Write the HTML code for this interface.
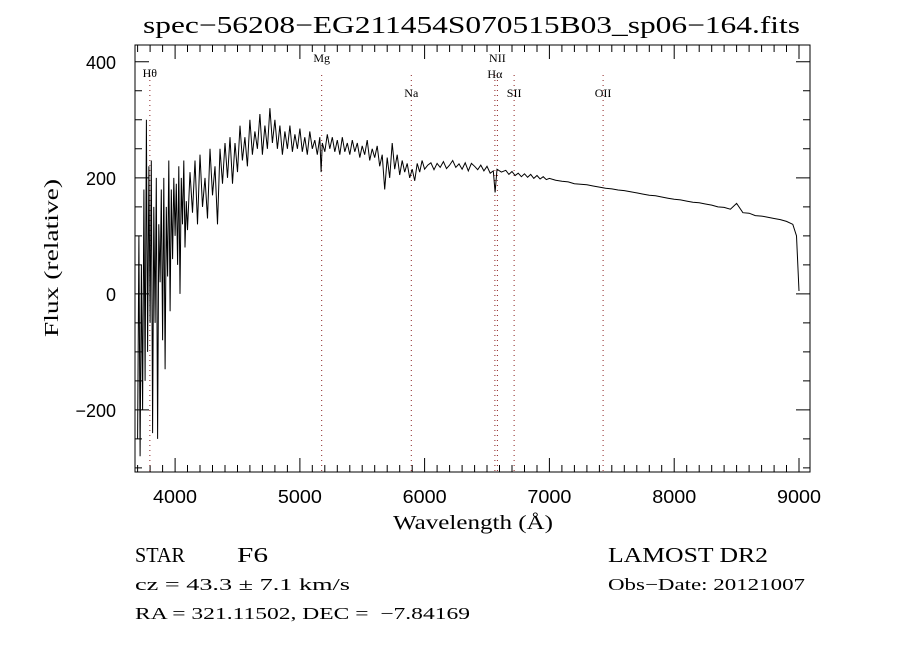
<!DOCTYPE html>
<html><head><meta charset="utf-8"><style>
body{margin:0;background:#fff;width:900px;height:650px;overflow:hidden}
svg{display:block}
.serif{font-family:"Liberation Serif",serif}
.sans{font-family:"Liberation Sans",sans-serif}
</style></head><body>
<svg id="chart" width="900" height="650" xmlns="http://www.w3.org/2000/svg">
<text class="serif" x="143" y="33" font-size="24" textLength="657" lengthAdjust="spacingAndGlyphs">spec−56208−EG211454S070515B03_sp06−164.fits</text>
<g id="axes"></g>
<g id="lines"></g>
<path id="spec" fill="none" stroke="#000" stroke-width="1"/>
<rect x="135" y="45" width="675" height="427" fill="none" stroke="#000" stroke-width="1"/>
<text class="serif" font-size="20" transform="translate(58,258) rotate(-90)" text-anchor="middle" textLength="158" lengthAdjust="spacingAndGlyphs">Flux (relative)</text>
<text class="serif" x="393" y="529" font-size="20" textLength="160" lengthAdjust="spacingAndGlyphs">Wavelength (Å)</text>
<text class="serif" x="135" y="562" font-size="21" textLength="50" lengthAdjust="spacingAndGlyphs">STAR</text>
<text class="serif" x="237" y="562" font-size="21" textLength="31" lengthAdjust="spacingAndGlyphs">F6</text>
<text class="serif" x="135" y="590" font-size="17" textLength="215" lengthAdjust="spacingAndGlyphs">cz = 43.3 ± 7.1 km/s</text>
<text class="serif" x="135" y="619" font-size="17" textLength="335" lengthAdjust="spacingAndGlyphs">RA = 321.11502, DEC =&#160;&#160;−7.84169</text>
<text class="serif" x="608" y="562" font-size="21" textLength="160" lengthAdjust="spacingAndGlyphs">LAMOST DR2</text>
<text class="serif" x="608" y="590" font-size="17" textLength="197" lengthAdjust="spacingAndGlyphs">Obs−Date: 20121007</text>
</svg>
<script>
const waves=[3700,3710,3720,3730,3740,3750,3760,3770,3780,3790,3800,3810,3820,3830,3840,3850,3860,3870,3880,3890,3900,3910,3920,3930,3940,3950,3960,3970,3980,3990,4000,4010,4020,4030,4040,4050,4060,4070,4080,4090,4100,4120,4140,4160,4180,4200,4220,4240,4260,4280,4300,4320,4340,4360,4380,4400,4420,4440,4460,4480,4500,4520,4540,4560,4580,4600,4620,4640,4660,4680,4700,4720,4740,4760,4780,4800,4820,4840,4860,4880,4900,4920,4940,4960,4980,5000,5020,5040,5060,5080,5100,5120,5140,5160,5170,5180,5200,5220,5240,5260,5280,5300,5320,5340,5360,5380,5400,5420,5440,5460,5480,5500,5520,5540,5560,5580,5600,5620,5640,5660,5680,5700,5720,5740,5760,5780,5800,5820,5840,5860,5880,5900,5920,5940,5960,5980,6000,6025,6050,6075,6100,6125,6150,6175,6200,6225,6250,6275,6300,6325,6350,6375,6400,6425,6450,6475,6500,6525,6550,6565,6580,6615,6650,6675,6700,6725,6750,6775,6800,6825,6850,6875,6900,6925,6950,6975,7000,7050,7100,7150,7200,7250,7300,7350,7400,7450,7500,7550,7600,7650,7700,7750,7800,7850,7900,7950,8000,8050,8100,8150,8200,8250,8300,8350,8400,8450,8500,8550,8600,8650,8700,8750,8800,8850,8900,8950,8980,9000,9010];
const flux=[-250,100,-280,50,-200,180,-150,300,-100,220,-50,230,-240,150,-50,200,-250,120,20,180,-80,200,-130,150,30,230,-30,180,60,200,100,190,50,220,0,200,120,230,80,160,110,210,140,230,120,240,150,200,130,250,170,220,120,250,190,260,200,270,190,260,210,290,230,270,220,300,240,280,250,310,240,290,250,320,260,300,250,290,240,280,250,290,245,275,250,285,245,270,240,280,250,265,240,270,210,260,245,275,250,270,245,265,240,270,245,260,240,265,245,260,235,255,240,265,230,250,235,255,220,240,180,235,200,260,215,240,205,230,210,225,200,215,195,225,210,230,215,222,226,214,225,218,228,216,222,230,218,224,215,226,212,225,220,214,222,212,220,208,212,175,215,210,213,206,211,204,208,202,207,201,206,199,204,198,202,197,199,196,194,193,190,189,188,186,184,182,181,179,178,176,174,172,170,169,167,165,163,162,160,158,157,155,153,150,149,146,156,140,139,135,134,132,130,128,125,120,100,5];
const lineNames=["Hθ","Mg","Na","NII","Hα","SII","OII"];
const lineWaves=[3798,5175,5893,6583,6563,6717,7430];
const lineLabelY=[77,62,97,62,78,97,97];
const xTicks=[4000,5000,6000,7000,8000,9000];
const yTicks=[-200,0,200,400];
const X0=135,X1=810,Y0=472,Y1=45,WMIN=3679,WMAX=9088,FMIN=-307,FMAX=429;
const sx=w=>X0+(w-WMIN)/(WMAX-WMIN)*(X1-X0);
const sy=f=>Y0-(f-FMIN)/(FMAX-FMIN)*(Y0-Y1);
const NS="http://www.w3.org/2000/svg";
function mk(tag,attrs,parent){const e=document.createElementNS(NS,tag);for(const k in attrs)e.setAttribute(k,attrs[k]);parent.appendChild(e);return e;}
const axes=document.getElementById('axes');
let d="";
for(let w=3700;w<=9088;w+=100){const x=sx(w).toFixed(1);const L=(w%1000===0)?14:7;d+=`M${x},${Y0}v${-L}M${x},${Y1}v${L}`;}
for(let f=-300;f<=429;f+=50){const y=sy(f).toFixed(1);const L=(f%200===0)?14:7;d+=`M${X0},${y}h${L}M${X1},${y}h${-L}`;}
const tk=mk('path',{d:d,stroke:'#000','stroke-width':1,fill:'none'},axes);


xTicks.forEach(v=>{const t=mk('text',{x:sx(v),y:503,'font-size':18,'text-anchor':'middle',class:'sans',textLength:44,lengthAdjust:'spacingAndGlyphs'},axes);t.textContent=v;

});
yTicks.forEach(v=>{const t=mk('text',{x:116,y:sy(v)+7,'font-size':18,'text-anchor':'end',class:'sans'},axes);t.textContent=v<0?'−'+Math.abs(v):v;

});
const lg=document.getElementById('lines');
lineWaves.forEach((w,i)=>{const x=sx(w);
const l=mk('line',{x1:x,x2:x,y1:Y1+30,y2:Y0,stroke:'#8b2020','stroke-width':1,'stroke-dasharray':'1,4'},lg);


const t=mk('text',{x:x,y:lineLabelY[i],'font-size':12,'text-anchor':'middle',class:'serif'},lg);t.textContent=lineNames[i];

});
let p="";waves.forEach((w,i)=>{p+=(i?"L":"M")+sx(w).toFixed(1)+","+sy(flux[i]).toFixed(1);});
document.getElementById('spec').setAttribute('d',p);
</script>
</body></html>
